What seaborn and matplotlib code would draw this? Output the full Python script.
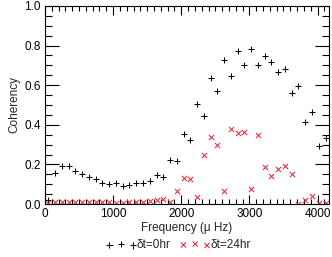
import numpy as np
import pandas as pd
import seaborn as sns
import matplotlib
matplotlib.use("Agg")
import matplotlib.pyplot as plt
from matplotlib.ticker import MultipleLocator

# frequency bins (μHz), 42 bins up to the Nyquist frequency
freq = [50, 149, 248, 347, 446, 546, 645, 744, 843, 942, 1042, 1141, 1240, 1339,
        1438, 1538, 1637, 1736, 1835, 1935, 2034, 2133, 2232, 2331, 2431, 2530,
        2629, 2728, 2827, 2927, 3026, 3125, 3224, 3323, 3423, 3522, 3621, 3720,
        3819, 3919, 4018, 4117]

coh_0hr = [0.02, 0.155, 0.192, 0.192, 0.167, 0.15, 0.138, 0.125, 0.108, 0.101,
           0.104, 0.091, 0.096, 0.104, 0.108, 0.116, 0.146, 0.138, 0.222, 0.217,
           0.352, 0.323, 0.505, 0.444, 0.636, 0.569, 0.727, 0.646, 0.774, 0.702,
           0.783, 0.702, 0.747, 0.716, 0.665, 0.682, 0.559, 0.598, 0.413, 0.466,
           0.295, 0.335]

coh_24hr = [0.005, 0.01, 0.012, 0.008, 0.01, 0.012, 0.01, 0.008, 0.012, 0.01,
            0.005, 0.006, 0.012, 0.008, 0.01, 0.015, 0.018, 0.026, 0.012, 0.066,
            0.13, 0.126, 0.034, 0.246, 0.34, 0.298, 0.067, 0.379, 0.357, 0.362,
            0.076, 0.348, 0.187, 0.141, 0.177, 0.192, 0.151, 0.0, 0.022, 0.04,
            0.005, 0.003]

df = pd.DataFrame({"freq": freq, "c0": coh_0hr, "c24": coh_24hr})

sns.set_style("ticks")
plt.rcParams["font.family"] = ["Liberation Sans", "DejaVu Sans"]

fig = plt.figure(figsize=(3.32, 2.57), dpi=100)
ax = fig.add_axes([0.1355, 0.206, 0.855, 0.771])

sns.scatterplot(data=df, x="freq", y="c0", marker="+", s=20, color="black",
                linewidth=0.75, label="δt=0hr", ax=ax)
sns.scatterplot(data=df, x="freq", y="c24", marker="x", s=14, color="#e8283a",
                linewidth=0.75, label="δt=24hr", ax=ax)

ax.set_xlim(0, 4166)
ax.set_ylim(0, 1.0)
ax.xaxis.set_major_locator(MultipleLocator(1000))
ax.xaxis.set_minor_locator(MultipleLocator(100))
ax.yaxis.set_major_locator(MultipleLocator(0.2))
ax.yaxis.set_minor_locator(MultipleLocator(0.05))
ax.yaxis.set_major_formatter(matplotlib.ticker.FormatStrFormatter("%.1f"))
ax.tick_params(axis="both", which="both", direction="in", top=True, right=True,
               labelsize=8.5, width=0.8, colors="black")
ax.tick_params(axis="x", which="major", length=6.5, pad=3)
ax.tick_params(axis="x", which="minor", length=3.6)
ax.tick_params(axis="y", which="major", length=10, pad=3)
ax.tick_params(axis="y", which="minor", length=5)
for sp in ax.spines.values():
    sp.set_linewidth(0.8)
    sp.set_color("black")

ax.set_xlabel("Frequency (μ Hz)", fontsize=8.5, labelpad=1)
ax.set_ylabel("Coherency", fontsize=8.5, labelpad=3)

ax.legend(loc="center", bbox_to_anchor=(0.47, -0.207), ncol=2, frameon=False,
          scatterpoints=3, handlelength=2.6, handletextpad=0.0, columnspacing=0.8,
          fontsize=8.5, borderpad=0)

fig.savefig("out.png", dpi=100)
